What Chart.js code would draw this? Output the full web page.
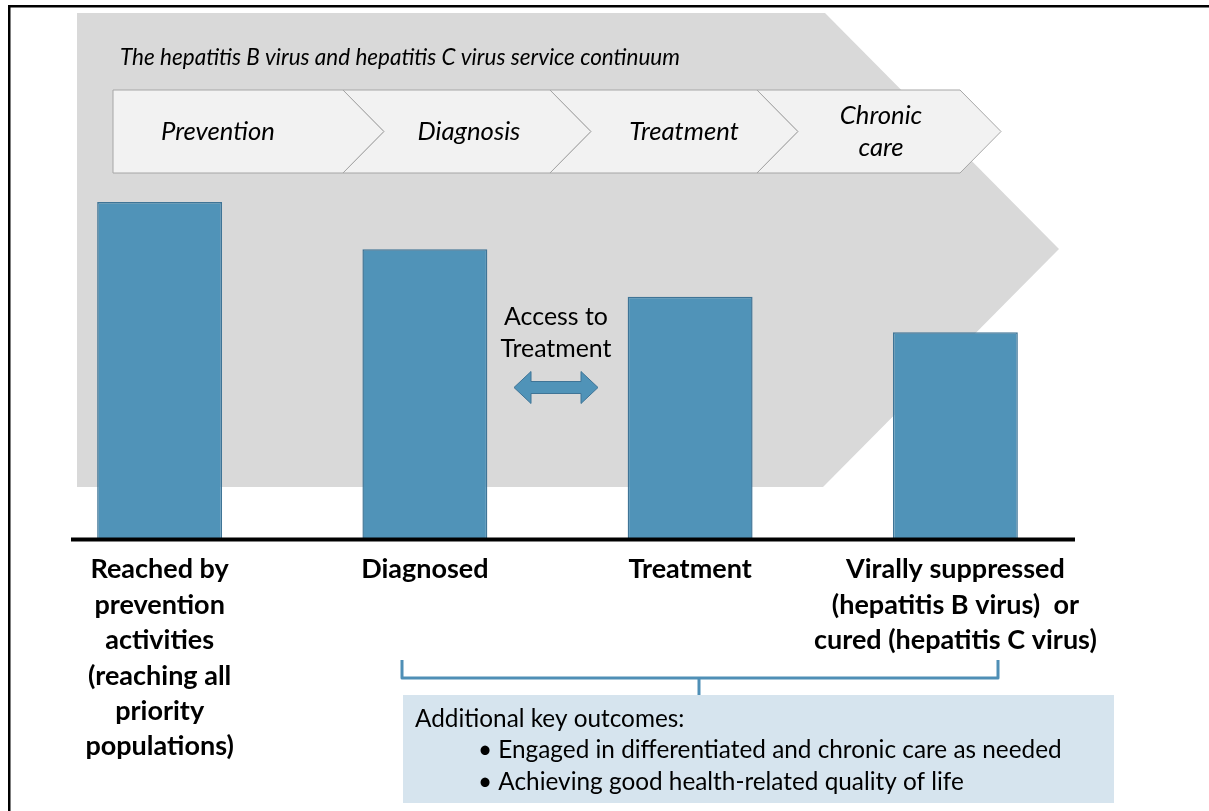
<!DOCTYPE html>
<html><head><meta charset="utf-8">
<script src="https://cdn.jsdelivr.net/npm/chart.js@4/dist/chart.umd.min.js"></script>
<style>html,body{margin:0;padding:0;background:#fff;} #wrap{position:relative;width:1209px;height:811px;}</style>
</head><body><div id="wrap"><canvas id="c"></canvas></div>
<script>
// ---- data ----
const categories = [
  ["Reached by","prevention","activities","(reaching all","priority","populations)"],
  ["Diagnosed"],
  ["Treatment"],
  ["Virally suppressed","(hepatitis B virus)  or","cured (hepatitis C virus)"]
];
const values = [100, 86, 72, 61.5];
const stages = [["Prevention"],["Diagnosis"],["Treatment"],["Chronic","care"]];
const continuumTitle = "The hepatitis B virus and hepatitis C virus service continuum";
const accessLabel = ["Access to","Treatment"];
const outcomesTitle = "Additional key outcomes:";
const outcomes = ["Engaged in differentiated and chronic care as needed","Achieving good health-related quality of life"];

// ---- styles ----
const FAMILY = "Lato, 'Open Sans', sans-serif";
const BAR = "#5093b8", BAR_EDGE = "#3f7496";

function fitSize(ctx, text, target, style){
  ctx.font = style + " 100px " + FAMILY;
  return target * 100 / ctx.measureText(text).width;
}

const deco = {
  id: 'deco',
  beforeDatasetsDraw(chart){
    const ctx = chart.ctx;
    ctx.save();
    // frame
    ctx.fillStyle = '#000';
    ctx.fillRect(8, 5, 1201, 2.5);
    ctx.fillRect(8, 5, 2.5, 806);
    // big grey arrow
    ctx.fillStyle = '#d9d9d9';
    ctx.beginPath();
    ctx.moveTo(77, 13); ctx.lineTo(825, 13); ctx.lineTo(1059, 249);
    ctx.lineTo(823, 487); ctx.lineTo(77, 487); ctx.closePath(); ctx.fill();
    // title
    ctx.fillStyle = '#000';
    ctx.textBaseline = 'middle'; ctx.textAlign = 'left';
    let s = fitSize(ctx, continuumTitle, 560, 'italic');
    ctx.font = 'italic ' + s + 'px ' + FAMILY;
    ctx.fillText(continuumTitle, 120, 58);
    // chevrons
    const xs = [113, 343, 550, 757, 960], top = 90, bot = 173, mid = 131.5, pt = 41;
    for (let i = 0; i < 4; i++){
      const xl = xs[i], xr = xs[i+1];
      ctx.beginPath();
      ctx.moveTo(xl, top); ctx.lineTo(xr, top); ctx.lineTo(xr + pt, mid);
      ctx.lineTo(xr, bot); ctx.lineTo(xl, bot);
      if (i > 0) ctx.lineTo(xl + pt, mid);
      ctx.closePath();
      ctx.fillStyle = '#f2f2f2'; ctx.fill();
      ctx.strokeStyle = '#a6a6a6'; ctx.lineWidth = 1; ctx.stroke();
    }
    const centers = [218, 469, 684, 881];
    s = fitSize(ctx, stages[0][0], 114, 'italic');
    ctx.font = 'italic ' + s + 'px ' + FAMILY;
    ctx.textAlign = 'center'; ctx.fillStyle = '#000';
    stages.forEach((lines, i) => {
      const n = lines.length, lh = 32;
      lines.forEach((t, j) => ctx.fillText(t, centers[i], mid + (j - (n-1)/2) * lh));
    });
    ctx.restore();
  },
  afterDatasetsDraw(chart){
    const ctx = chart.ctx, ca = chart.chartArea;
    ctx.save();
    // baseline
    ctx.fillStyle = '#000';
    ctx.fillRect(71, ca.bottom - 2.5, 1004, 4);
    // access to treatment
    ctx.textAlign = 'center'; ctx.textBaseline = 'middle';
    let s = fitSize(ctx, accessLabel[1], 111, 'normal');
    ctx.font = 'normal ' + s + 'px ' + FAMILY;
    ctx.fillText(accessLabel[0], 556, 317);
    ctx.fillText(accessLabel[1], 556, 349);
    // double arrow
    const cy = 387.5;
    ctx.beginPath();
    ctx.moveTo(514, cy); ctx.lineTo(531, cy - 16); ctx.lineTo(531, cy - 6);
    ctx.lineTo(581, cy - 6); ctx.lineTo(581, cy - 16); ctx.lineTo(598, cy);
    ctx.lineTo(581, cy + 16); ctx.lineTo(581, cy + 6); ctx.lineTo(531, cy + 6);
    ctx.lineTo(531, cy + 16); ctx.closePath();
    ctx.fillStyle = BAR; ctx.fill();
    ctx.strokeStyle = BAR_EDGE; ctx.lineWidth = 1; ctx.stroke();
    // bracket
    ctx.strokeStyle = '#4f8fb6'; ctx.lineWidth = 3; ctx.lineJoin = 'round';
    ctx.beginPath();
    ctx.moveTo(402, 660); ctx.lineTo(402, 678); ctx.lineTo(998, 678); ctx.lineTo(998, 660);
    ctx.stroke();
    ctx.beginPath(); ctx.moveTo(699, 678); ctx.lineTo(699, 696); ctx.stroke();
    // outcomes box
    ctx.fillStyle = '#d6e4ee';
    ctx.fillRect(403, 695, 711, 108);
    ctx.fillStyle = '#000'; ctx.textAlign = 'left';
    s = fitSize(ctx, '\u2022 ' + outcomes[0], 584, 'normal');
    ctx.font = 'normal ' + s + 'px ' + FAMILY;
    ctx.fillText(outcomesTitle, 415, 719);
    outcomes.forEach((t, i) => ctx.fillText('\u2022 ' + t, 478, 750 + i * 32));
    ctx.restore();
  }
};

new Chart(document.getElementById('c'), {
  type: 'bar',
  data: {
    labels: categories,
    datasets: [{
      data: values,
      backgroundColor: BAR,
      borderColor: BAR_EDGE,
      borderWidth: 1.5,
      barPercentage: 0.471,
      categoryPercentage: 1
    }]
  },
  options: {
    responsive: true,
    maintainAspectRatio: false,
    animation: false,
    layout: { padding: { left: 27, right: 121, top: 202, bottom: 0 } },
    plugins: { legend: { display: false }, tooltip: { enabled: false } },
    scales: {
      y: { display: false, min: 0, max: 100 },
      x: {
        grid: { display: false, drawTicks: false },
        border: { display: false },
        afterFit: s => { s.height = 271; },
        ticks: {
          color: '#000',
          padding: 12,
          maxRotation: 0,
          autoSkip: false,
          font: { family: FAMILY, weight: 'bold', size: 27, lineHeight: 1.311 }
        }
      }
    }
  },
  plugins: [deco]
});
</script>
</body></html>
